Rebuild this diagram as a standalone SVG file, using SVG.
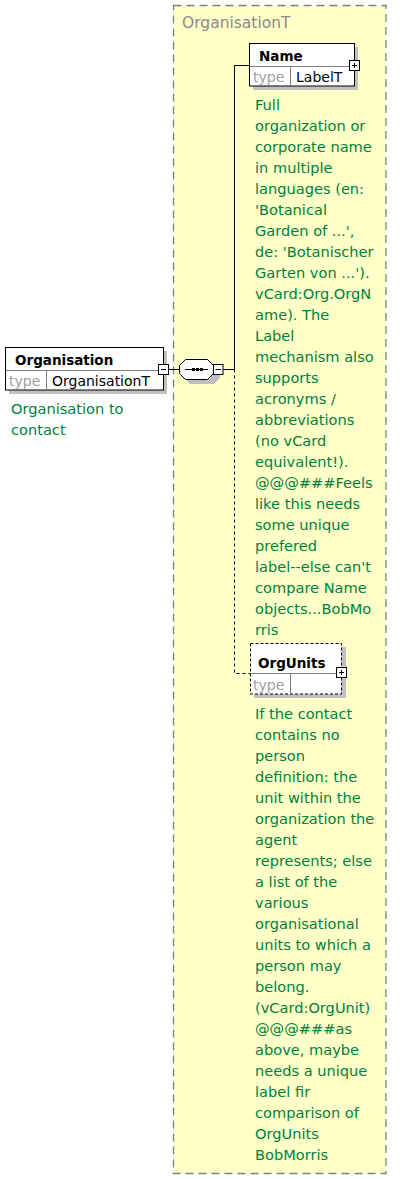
<svg xmlns="http://www.w3.org/2000/svg" width="405" height="1180" viewBox="0 0 405 1180">
  <defs>
    <style>
      .bg { fill: #ffffff; }
      .ctype { fill: #ffffc8; stroke: #808080; stroke-width: 1.3; stroke-dasharray: 8 5; }
      .ctitle { font-family: "DejaVu Sans", sans-serif; font-size: 15.5px; fill: #8a8a8a; }
      .shadow { fill: #c0c0c0; }
      .box { fill: #ffffff; stroke: #000000; stroke-width: 1; }
      .box-opt { fill: #ffffff; stroke: #000000; stroke-width: 1; stroke-dasharray: 3 2; }
      .sep { stroke: #808080; stroke-width: 1; }
      .name { font-family: "DejaVu Sans", sans-serif; font-size: 13.5px; font-weight: bold; fill: #000000; }
      .tlabel { font-family: "DejaVu Sans", sans-serif; font-size: 14px; fill: #a0a0a0; }
      .tval { font-family: "DejaVu Sans", sans-serif; font-size: 14px; fill: #000000; }
      .doc { font-family: "DejaVu Sans", sans-serif; font-size: 14.6px; fill: #007f3f; }
      .line { stroke: #000000; stroke-width: 1; fill: none; }
      .dline { stroke: #000000; stroke-width: 1; fill: none; stroke-dasharray: 3 3; }
      .pm { fill: #ffffff; stroke: #000000; stroke-width: 1; }
    </style>
  </defs>

  <rect class="bg" x="0" y="0" width="405" height="1180"/>

  <!-- complex type container -->
  <g id="OrganisationT">
    <rect class="ctype" x="173.5" y="5.5" width="212.5" height="1168"/>
    <text class="ctitle" x="182" y="28">OrganisationT</text>
  </g>

  <!-- connectors -->
  <g id="connectors">
    <line class="line" x1="169" y1="369.5" x2="179" y2="369.5"/>
    <line class="line" x1="223" y1="369.5" x2="234.5" y2="369.5"/>
    <polyline class="line" points="249,65.5 234.5,65.5 234.5,369.5"/>
    <polyline class="dline" points="234.5,369.5 234.5,673.5 250,673.5"/>
  </g>

  <!-- root element -->
  <g id="Organisation">
    <rect class="shadow" x="9" y="351" width="158" height="43"/>
    <rect class="box" x="5.5" y="347.5" width="158" height="42.5"/>
    <line class="sep" x1="6" y1="370.5" x2="163" y2="370.5"/>
    <line class="sep" x1="46.5" y1="371" x2="46.5" y2="389.5"/>
    <text class="name" x="15" y="365">Organisation</text>
    <text class="tlabel" x="9" y="386">type</text>
    <text class="tval" x="52" y="386">OrganisationT</text>
    <rect class="pm" x="158.5" y="364.5" width="10" height="10"/>
    <line class="line" x1="161" y1="369.5" x2="166" y2="369.5"/>
    <text class="doc" x="11" y="414">Organisation to</text>
    <text class="doc" x="11" y="435">contact</text>
  </g>

  <!-- sequence compositor -->
  <g id="sequence">
    <path class="shadow" d="M190,364 L214,364 L220,370 L220,378 L214,384 L190,384 L184,378 L184,370 Z"/>
    <path class="box" d="M185.5,359.5 L207.5,359.5 L213.5,365.5 L213.5,373.5 L207.5,379.5 L185.5,379.5 L179.5,373.5 L179.5,365.5 Z"/>
    <line class="line" x1="185" y1="369.5" x2="208" y2="369.5"/>
    <rect x="192" y="368" width="3" height="3" fill="#000"/>
    <rect x="196" y="368" width="3" height="3" fill="#000"/>
    <rect x="200" y="368" width="3" height="3" fill="#000"/>
    <rect class="pm" x="213.5" y="364.5" width="9.5" height="10"/>
    <line class="line" x1="215.5" y1="369.5" x2="221" y2="369.5"/>
  </g>

  <!-- Name element -->
  <g id="Name">
    <rect class="shadow" x="253" y="47" width="105" height="43"/>
    <rect class="box" x="249.5" y="43.5" width="105" height="42.5"/>
    <line class="sep" x1="250" y1="66.5" x2="354" y2="66.5"/>
    <line class="sep" x1="290.5" y1="67" x2="290.5" y2="85.5"/>
    <text class="name" x="259" y="61">Name</text>
    <text class="tlabel" x="253" y="82">type</text>
    <text class="tval" x="296" y="82">LabelT</text>
    <rect class="pm" x="349.5" y="60.5" width="10" height="10"/>
    <line class="line" x1="352" y1="65.5" x2="357" y2="65.5"/>
    <line class="line" x1="354.5" y1="63" x2="354.5" y2="68"/>
    <text class="doc" x="255">
      <tspan x="255" y="110">Full</tspan>
      <tspan x="255" y="131">organization or</tspan>
      <tspan x="255" y="152">corporate name</tspan>
      <tspan x="255" y="173">in multiple</tspan>
      <tspan x="255" y="194">languages (en:</tspan>
      <tspan x="255" y="215">'Botanical</tspan>
      <tspan x="255" y="236">Garden of ...',</tspan>
      <tspan x="255" y="257">de: 'Botanischer</tspan>
      <tspan x="255" y="278">Garten von ...').</tspan>
      <tspan x="255" y="299">vCard:Org.OrgN</tspan>
      <tspan x="255" y="320">ame). The</tspan>
      <tspan x="255" y="341">Label</tspan>
      <tspan x="255" y="362">mechanism also</tspan>
      <tspan x="255" y="383">supports</tspan>
      <tspan x="255" y="404">acronyms /</tspan>
      <tspan x="255" y="425">abbreviations</tspan>
      <tspan x="255" y="446">(no vCard</tspan>
      <tspan x="255" y="467">equivalent!).</tspan>
      <tspan x="255" y="488">@@@###Feels</tspan>
      <tspan x="255" y="509">like this needs</tspan>
      <tspan x="255" y="530">some unique</tspan>
      <tspan x="255" y="551">prefered</tspan>
      <tspan x="255" y="572">label--else can't</tspan>
      <tspan x="255" y="593">compare Name</tspan>
      <tspan x="255" y="614">objects...BobMo</tspan>
      <tspan x="255" y="635">rris</tspan>
    </text>
  </g>

  <!-- OrgUnits element (optional) -->
  <g id="OrgUnits">
    <rect class="shadow" x="254" y="647" width="92" height="51"/>
    <rect class="box-opt" x="250.5" y="643.5" width="91" height="50.5"/>
    <line class="sep" x1="251" y1="673.5" x2="341" y2="673.5"/>
    <line class="sep" x1="290.5" y1="674" x2="290.5" y2="693.5"/>
    <text class="name" x="258" y="668">OrgUnits</text>
    <text class="tlabel" x="253" y="690">type</text>
    <rect class="pm" x="336.5" y="667.5" width="10" height="10"/>
    <line class="line" x1="339" y1="672.5" x2="344" y2="672.5"/>
    <line class="line" x1="341.5" y1="670" x2="341.5" y2="675"/>
    <text class="doc" x="255">
      <tspan x="255" y="719">If the contact</tspan>
      <tspan x="255" y="740">contains no</tspan>
      <tspan x="255" y="761">person</tspan>
      <tspan x="255" y="782">definition: the</tspan>
      <tspan x="255" y="803">unit within the</tspan>
      <tspan x="255" y="824">organization the</tspan>
      <tspan x="255" y="845">agent</tspan>
      <tspan x="255" y="866">represents; else</tspan>
      <tspan x="255" y="887">a list of the</tspan>
      <tspan x="255" y="908">various</tspan>
      <tspan x="255" y="929">organisational</tspan>
      <tspan x="255" y="950">units to which a</tspan>
      <tspan x="255" y="971">person may</tspan>
      <tspan x="255" y="992">belong.</tspan>
      <tspan x="255" y="1013">(vCard:OrgUnit)</tspan>
      <tspan x="255" y="1034">@@@###as</tspan>
      <tspan x="255" y="1055">above, maybe</tspan>
      <tspan x="255" y="1076">needs a unique</tspan>
      <tspan x="255" y="1097">label fir</tspan>
      <tspan x="255" y="1118">comparison of</tspan>
      <tspan x="255" y="1139">OrgUnits</tspan>
      <tspan x="255" y="1160">BobMorris</tspan>
    </text>
  </g>
</svg>
